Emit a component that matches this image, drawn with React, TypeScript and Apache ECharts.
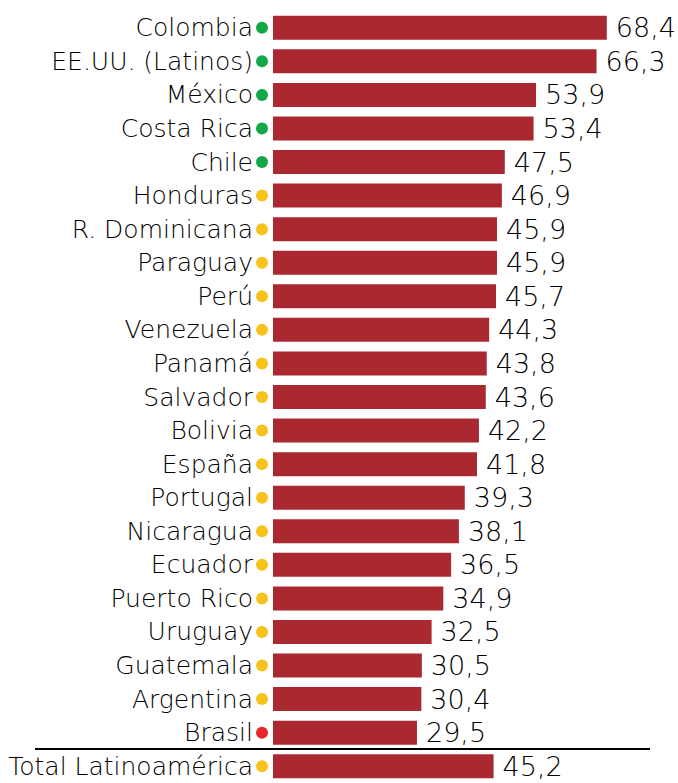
import React, { useEffect, useRef } from "react";
import * as echarts from "echarts";

const categories = [
  "Colombia", "EE.UU. (Latinos)", "México", "Costa Rica", "Chile", "Honduras",
  "R. Dominicana", "Paraguay", "Perú", "Venezuela", "Panamá", "Salvador",
  "Bolivia", "España", "Portugal", "Nicaragua", "Ecuador", "Puerto Rico",
  "Uruguay", "Guatemala", "Argentina", "Brasil", "Total Latinoamérica",
];
const values = [
  68.4, 66.3, 53.9, 53.4, 47.5, 46.9, 45.9, 45.9, 45.7, 44.3, 43.8, 43.6,
  42.2, 41.8, 39.3, 38.1, 36.5, 34.9, 32.5, 30.5, 30.4, 29.5, 45.2,
];
const status = [
  "g", "g", "g", "g", "g", "y", "y", "y", "y", "y", "y", "y",
  "y", "y", "y", "y", "y", "y", "y", "y", "y", "r", "y",
];

const FONT = "'DejaVu Sans', sans-serif";

export default function App() {
  const ref = useRef<HTMLDivElement>(null);
  useEffect(() => {
    if (!ref.current) return;
    const chart = echarts.init(ref.current, undefined, { renderer: "svg" });
    const dotBase = { width: 12, height: 12, borderRadius: 6 };
    chart.setOption({
      animation: false,
      grid: { left: 273, top: 11, width: 390.4, height: 774.4 },
      xAxis: { type: "value", min: 0, max: 80, show: false },
      yAxis: {
        type: "category",
        data: categories,
        inverse: true,
        axisLine: { show: false },
        axisTick: { show: false },
        axisLabel: {
          margin: 5,
          formatter: (v: string) => {
            const i = categories.indexOf(v);
            return `{n|${v}}{s|}{${status[i]}|}`;
          },
          rich: {
            n: { fontFamily: FONT, fontSize: 25, fontWeight: 200, color: "#000" },
            s: { width: 3 },
            g: { ...dotBase, backgroundColor: "#12A84A" },
            y: { ...dotBase, backgroundColor: "#F8C21C" },
            r: { ...dotBase, backgroundColor: "#E8262C" },
          },
        },
      },
      series: [
        {
          type: "bar",
          data: values,
          barWidth: 24,
          itemStyle: { color: "#AA2830" },
          label: {
            show: true,
            position: "right",
            distance: 9,
            fontFamily: FONT,
            fontSize: 27,
            fontWeight: 200,
            color: "#000",
            formatter: (p: any) => p.value.toFixed(1).replace(".", ","),
          },
        },
      ],
    });
    const n = categories.length;
    const yA = chart.convertToPixel({ yAxisIndex: 0 }, categories[n - 2]) as number;
    const yB = chart.convertToPixel({ yAxisIndex: 0 }, categories[n - 1]) as number;
    const yLine = Math.round((yA + yB) / 2);
    chart.setOption({
      graphic: [
        {
          type: "line",
          shape: { x1: 35, y1: yLine, x2: 650, y2: yLine },
          style: { stroke: "#000", lineWidth: 2 },
        },
      ],
    });
    return () => chart.dispose();
  }, []);
  return (
    <div
      ref={ref}
      style={{ position: "absolute", left: 0, top: 0, width: 678, height: 783 }}
    />
  );
}
